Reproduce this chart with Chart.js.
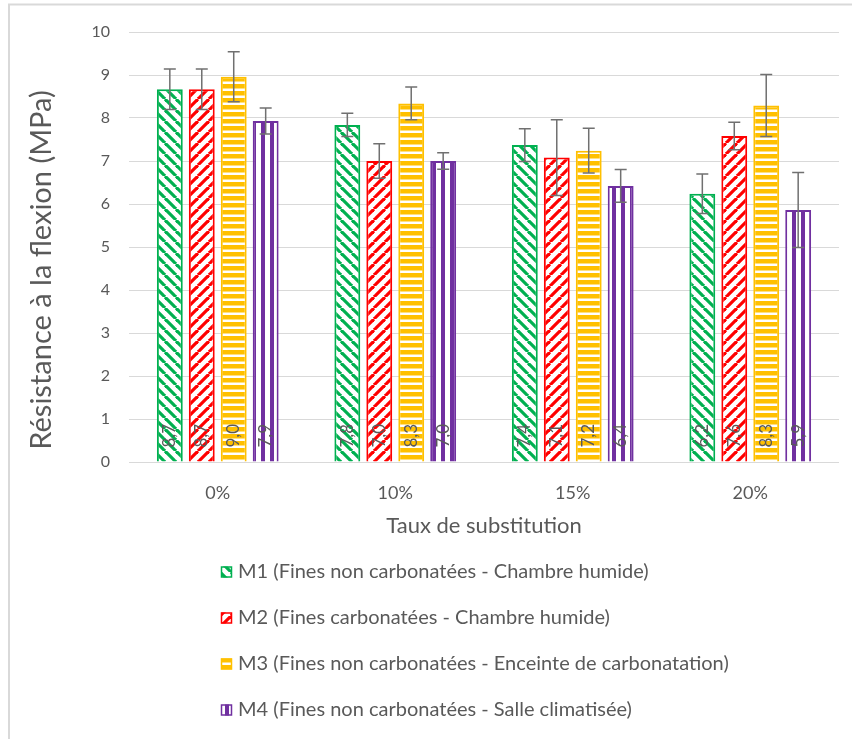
<!DOCTYPE html>
<html>
<head>
    <meta charset="UTF-8">
    <title>Résistance à la flexion</title>
    <script src="https://cdn.jsdelivr.net/npm/chart.js"></script>
    <style>
        body { margin: 0; background: #fff; }
        #chart { display: block; }
    </style>
</head>
<body>
<canvas id="chart" width="852" height="739"></canvas>
<script>
    // data
    const categories = ["0%", "10%", "15%", "20%"];
    const seriesNames = [
        "M1 (Fines non carbonatées - Chambre humide)",
        "M2 (Fines carbonatées - Chambre humide)",
        "M3 (Fines non carbonatées - Enceinte de carbonatation)",
        "M4 (Fines non carbonatées - Salle climatisée)"
    ];
    const m1 = [8.67, 7.84, 7.37, 6.24];
    const m2 = [8.67, 7.00, 7.08, 7.58];
    const m3 = [8.96, 8.34, 7.24, 8.29];
    const m4 = [7.93, 7.00, 6.42, 5.86];
    const errM1 = [0.47, 0.27, 0.38, 0.46];
    const errM2 = [0.47, 0.40, 0.88, 0.32];
    const errM3 = [0.58, 0.38, 0.52, 0.72];
    const errM4 = [0.30, 0.19, 0.38, 0.87];
    const yMin = 0, yMax = 10, yStep = 1;

    const FONT = "Lato, 'Open Sans', sans-serif";
    const TEXT = "#595959";
    const colors = ["#00B050", "#FF0000", "#FFC000", "#7030A0"];

    function makePattern(kind, color) {
        const c = document.createElement("canvas");
        const g = c.getContext("2d");
        let s;
        if (kind === "down" || kind === "up") {
            s = 11;
            c.width = s; c.height = s;
            g.fillStyle = "#fff";
            g.fillRect(0, 0, s, s);
            g.strokeStyle = color;
            g.lineWidth = 3.2;
            for (const k of [-s, 0, s]) {
                g.beginPath();
                if (kind === "down") {
                    g.moveTo(k, 0); g.lineTo(k + s, s);
                } else {
                    g.moveTo(k, s); g.lineTo(k + s, 0);
                }
                g.stroke();
            }
        } else if (kind === "horiz") {
            c.width = 4; c.height = 7;
            g.fillStyle = "#fff";
            g.fillRect(0, 0, 4, 7);
            g.fillStyle = color;
            g.fillRect(0, 0, 4, 4.5);
        } else {
            c.width = 9; c.height = 4;
            g.fillStyle = "#fff";
            g.fillRect(0, 0, 9, 4);
            g.fillStyle = color;
            g.fillRect(0, 0, 4, 4);
        }
        return g.createPattern(c, "repeat");
    }

    const patterns = [
        makePattern("down", colors[0]),
        makePattern("up", colors[1]),
        makePattern("horiz", colors[2]),
        makePattern("vert", colors[3])
    ];
    const values = [m1, m2, m3, m4];
    const errors = [errM1, errM2, errM3, errM4];

    const extras = {
        id: "extras",
        beforeDraw(chart) {
            const ctx = chart.ctx;
            ctx.save();
            ctx.strokeStyle = "#d9d9d9";
            ctx.lineWidth = 2;
            ctx.beginPath();
            ctx.moveTo(9, 760);
            ctx.lineTo(9, 4.5);
            ctx.lineTo(860, 4.5);
            ctx.stroke();
            ctx.restore();
        },
        afterDatasetsDraw(chart) {
            const ctx = chart.ctx;
            const y = chart.scales.y;
            ctx.save();
            chart.data.datasets.forEach((ds, i) => {
                const meta = chart.getDatasetMeta(i);
                meta.data.forEach((el, j) => {
                    const v = ds.data[j];
                    const e = errors[i][j];
                    const top = y.getPixelForValue(v + e);
                    const bot = y.getPixelForValue(v - e);
                    ctx.strokeStyle = "#707070";
                    ctx.lineWidth = 1.5;
                    ctx.beginPath();
                    ctx.moveTo(el.x, top); ctx.lineTo(el.x, bot);
                    ctx.moveTo(el.x - 6, top); ctx.lineTo(el.x + 6, top);
                    ctx.moveTo(el.x - 6, bot); ctx.lineTo(el.x + 6, bot);
                    ctx.stroke();

                    // value label at the bar base, rotated
                    ctx.save();
                    ctx.translate(el.x, el.base - 14);
                    ctx.rotate(-Math.PI / 2);
                    ctx.fillStyle = TEXT;
                    ctx.font = "17px " + FONT;
                    ctx.textAlign = "left";
                    ctx.textBaseline = "middle";
                    ctx.fillText(v.toFixed(1).replace(".", ","), 0, 0);
                    ctx.restore();
                });
            });
            ctx.restore();
        },
        afterDraw(chart) {
            const ctx = chart.ctx;
            ctx.save();
            // y axis title
            ctx.save();
            ctx.translate(42, 270);
            ctx.rotate(-Math.PI / 2);
            ctx.font = "29px " + FONT;
            ctx.fillStyle = TEXT;
            ctx.textAlign = "center";
            ctx.textBaseline = "middle";
            ctx.fillText("Résistance à la flexion (MPa)", 0, 0);
            ctx.restore();

            ctx.font = "20px " + FONT;
            ctx.textBaseline = "middle";
            seriesNames.forEach((name, i) => {
                const cy = 572 + i * 46;
                ctx.fillStyle = patterns[i];
                ctx.fillRect(221, cy - 5.5, 11, 11);
                ctx.strokeStyle = colors[i];
                ctx.lineWidth = 1.5;
                ctx.strokeRect(221.5, cy - 5, 10, 10);
                ctx.fillStyle = TEXT;
                ctx.fillText(name, 238, cy);
            });
            ctx.restore();
        }
    };

    new Chart(document.getElementById("chart"), {
        type: "bar",
        data: {
            labels: categories,
            datasets: values.map((d, i) => ({
                label: seriesNames[i],
                data: d,
                backgroundColor: patterns[i],
                borderColor: colors[i],
                borderWidth: 2,
                categoryPercentage: 0.72,
                barPercentage: 0.81
            }))
        },
        options: {
            responsive: false,
            animation: false,
            layout: {padding: {left: 9, right: 13, top: 32, bottom: 197}},
            plugins: {
                legend: {display: false},
                tooltip: {enabled: false}
            },
            scales: {
                x: {
                    grid: {display: false},
                    border: {display: false},
                    ticks: {color: TEXT, font: {family: FONT, size: 18}, padding: 12},
                    title: {
                        display: true,
                        text: "Taux de substitution",
                        color: TEXT,
                        font: {family: FONT, size: 22},
                        padding: {top: 4, bottom: 3}
                    },
                    afterFit(s) { s.height = 80; }
                },
                y: {
                    min: yMin,
                    max: yMax,
                    ticks: {stepSize: yStep, color: TEXT, font: {family: FONT, size: 16}, padding: 19},
                    grid: {color: "#d9d9d9", drawTicks: false},
                    border: {display: false},
                    afterFit(s) { s.width = 120; }
                }
            }
        },
        plugins: [extras]
    });
</script>
</body>
</html>
